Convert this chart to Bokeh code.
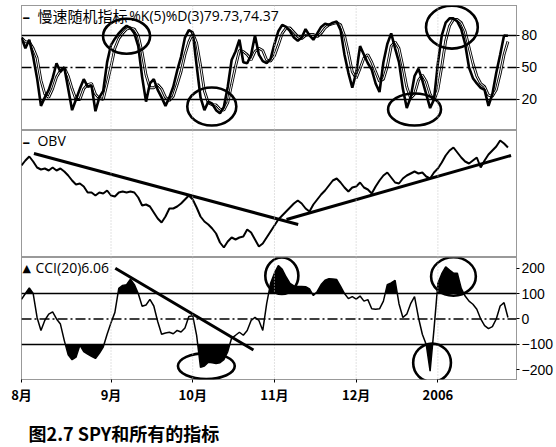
import numpy as np
from bokeh.plotting import figure
from bokeh.models import Span, FixedTicker, Label
from bokeh.layouts import column
from bokeh.embed import file_html
from bokeh.resources import INLINE

# ---------------- data ----------------
month_ticks = [0, 23, 44, 65, 86, 107]
month_labels = ["8月", "9月", "10月", "11月", "12月", "2006"]

stoch_k = [78, 68, 76, 60, 40, 14, 22, 29, 40, 54,
           46, 50, 30, 10, 20, 30, 39, 32, 33, 9,
           22, 28, 55, 71, 77, 82, 86, 89, 87, 82,
           70, 41, 18, 35, 39, 29, 22, 14, 22, 32,
           47, 60, 78, 85, 83, 52, 22, 10, 18, 16,
           10, 7, 13, 32, 57, 65, 76, 55, 54, 62,
           80, 62, 56, 54, 58, 72, 84, 90, 88, 84,
           78, 75, 78, 86, 80, 76, 82, 88, 91, 90,
           92, 93, 85, 62, 45, 31, 45, 70, 62, 54,
           48, 35, 27, 55, 72, 82, 68, 55, 30, 12,
           22, 42, 49, 38, 25, 12, 20, 54, 80, 92,
           96, 96, 93, 86, 72, 50, 40, 35, 31, 29,
           14, 25, 45, 62, 80, 79.73]

stoch_d = [78, 74, 74, 68, 59, 38, 25, 22, 30, 41,
           47, 50, 42, 30, 20, 20, 30, 34, 35, 25,
           21, 20, 35, 51, 68, 77, 82, 86, 87, 86,
           80, 64, 43, 31, 31, 34, 30, 22, 19, 23,
           34, 46, 62, 74, 82, 73, 52, 28, 17, 15,
           15, 11, 10, 17, 34, 51, 66, 65, 62, 57,
           65, 68, 66, 57, 56, 61, 71, 82, 87, 87,
           83, 79, 77, 80, 81, 81, 79, 82, 87, 90,
           91, 92, 90, 80, 64, 46, 40, 49, 59, 62,
           55, 46, 37, 39, 51, 70, 74, 68, 51, 32,
           21, 25, 38, 43, 37, 25, 19, 29, 51, 75,
           89, 95, 95, 92, 84, 69, 54, 42, 35, 32,
           24, 23, 29, 44, 62, 74.37]

obv = [85, 90, 94, 89, 83, 81, 82, 80, 83, 80,
       82, 79, 75, 70, 66, 67, 64, 58, 58, 55,
       58, 57, 60, 55, 54, 58, 59, 58, 59, 58,
       53, 45, 46, 44, 38, 32, 28, 34, 42, 42,
       44, 47, 51, 55, 51, 43, 34, 29, 26, 22,
       17, 8, 3, 9, 13, 11, 13, 14, 21, 18,
       11, 4, 7, 13, 19, 25, 31, 35, 39, 43,
       47, 50, 47, 42, 39, 46, 51, 56, 60, 65,
       70, 72, 68, 63, 59, 63, 64, 68, 63, 61,
       57, 64, 70, 75, 78, 73, 68, 67, 72, 75,
       77, 79, 77, 78, 74, 72, 78, 82, 88, 95,
       100, 103, 98, 93, 89, 87, 90, 93, 83, 90,
       96, 100, 104, 110, 107, 103]

cci = [77, 100, 122, 100, 6, -45, -5, 19, 28, 0,
       -20, -85, -141, -160, -150, -103, -128, -138, -147, -155,
       -135, -110, -60, -15, 26, 120, 132, 135, 156, 135,
       100, 50, 55, 77, 51, -10, -60, -55, -52, -58,
       -45, -51, -35, 10, 13, -64, -190, -185, -170, -172,
       -175, -172, -160, -128, -75, -64, -52, -64, -45, -6,
       6, -6, -45, 60, 140, 180, 210, 195, 165, 140,
       130, 128, 128, 127, 118, 92, 108, 135, 152, 158,
       157, 155, 128, 100, 80, 88, 78, 90, 70, 76,
       40, 38, 40, 70, 135, 142, 152, 60, 6, 19,
       60, 88, 6, -60, -100, -205, -40, 140, 178, 205,
       192, 180, 180, 120, 90, 70, 58, 38, 0, -26,
       -38, -30, 0, 51, 64, 6.06]

days = list(range(len(cci)))

# trend lines drawn on the book figure (day index, indicator value)
obv_trend1_x = [3.2, 71.1]
obv_trend1_y = [97, 26]
obv_trend2_x = [68.1, 125.8]
obv_trend2_y = [31, 95]
cci_trend_x = [24.1, 59.6]
cci_trend_y = [199, -122]

# hand-drawn circles (centre day, centre value, width in days, height in value)
stoch_circle_x = [27.0, 48.9, 101.0, 110.6]
stoch_circle_y = [79.3, 13.4, 10.6, 87.8]
stoch_circle_w = [12.1, 12.6, 13.6, 13.3]
stoch_circle_h = [32.8, 35.6, 30.0, 40.3]

cci_circle_x = [66.9, 111.0, 105.5, 47.5]
cci_circle_y = [170, 167, -172, -185]
cci_circle_w = [8.5, 11.5, 9.7, 14.6]
cci_circle_h = [143, 151, 151, 102]

caption = "图2.7 SPY和所有的指标"

# ---------------- layout helpers ----------------
W = 556
X_END = 127.2
PX_PER_DAY = 3.9
FRAME_LEFT = 21   # canvas px of the plot frames' left edge
BORDER_RIGHT = 39


def px_x(px):
    return (px - FRAME_LEFT) / PX_PER_DAY


def style_panel(p):
    p.grid.visible = False
    p.outline_line_color = "#333333"
    p.outline_line_dash = "1 1"
    p.outline_line_width = 1
    p.background_fill_color = "white"
    p.border_fill_color = "white"
    for t in month_ticks[1:]:
        p.add_layout(Span(location=t, dimension="height", line_color="#c4c4c4",
                          line_dash="1 2", line_width=1))


def style_right_axis(p, ticks):
    ax = p.yaxis[0]
    ax.ticker = FixedTicker(ticks=ticks)
    ax.axis_line_color = None
    ax.major_tick_out = 3
    ax.major_tick_in = 0
    ax.minor_tick_out = 0
    ax.minor_tick_in = 0
    ax.major_tick_line_color = "black"
    ax.major_label_standoff = 2
    ax.major_label_text_font = "Liberation Sans"
    ax.major_label_text_font_size = "14px"
    ax.major_label_text_color = "black"


def hline(p, y, dash=None):
    kw = dict(location=y, dimension="width", line_color="black", line_width=1.5)
    if dash:
        kw["line_dash"] = dash
    p.add_layout(Span(**kw))


def band(xs, ys, level, above=True):
    bx, by = [], []
    for i in range(len(xs)):
        if i > 0:
            y0, y1 = ys[i - 1], ys[i]
            if (y0 - level) * (y1 - level) < 0:
                t = (level - y0) / (y1 - y0)
                bx.append(xs[i - 1] + t * (xs[i] - xs[i - 1]))
                by.append(level)
        bx.append(xs[i])
        by.append(max(ys[i], level) if above else min(ys[i], level))
    return bx, by


# ---------------- panel 1: slow stochastic ----------------
T1 = 5          # frame top (canvas px)
H1F = 125       # frame height
S_TOP, S_BOT = 108.1, -9.06
p1 = figure(width=W, height=T1 + H1F, x_range=(0, X_END), y_range=(S_BOT, S_TOP),
            output_backend="svg", toolbar_location=None,
            x_axis_location=None, y_axis_location="right",
            min_border=0, min_border_top=T1, min_border_left=FRAME_LEFT,
            min_border_right=BORDER_RIGHT)
style_panel(p1)
style_right_axis(p1, [20, 50, 80])
hline(p1, 80)
hline(p1, 20)
hline(p1, 50, "10 3 2 3")
p1.line(days, stoch_d, line_color="black", line_width=2.8)
p1.line(days, stoch_d, line_color="white", line_width=1.0)
p1.line(days, stoch_k, line_color="black", line_width=2.6)


def s_y(py):
    return S_TOP - (py - T1) * (S_TOP - S_BOT) / H1F


p1.add_layout(Label(x=px_x(22), y=s_y(15), text="–", text_font="Open Sans",
                    text_font_style="bold", text_font_size="15px",
                    text_baseline="middle", text_color="black"))
p1.add_layout(Label(x=px_x(37), y=s_y(15), text="慢速随机指标", text_font="Noto Sans CJK SC",
                    text_font_size="15px", text_baseline="middle", text_color="black"))
p1.add_layout(Label(x=px_x(129), y=s_y(15), text="%K(5)%D(3)79.73,74.37",
                    text_font="Open Sans", text_font_size="14px",
                    text_baseline="middle", text_color="black"))
p1.ellipse(x=stoch_circle_x, y=stoch_circle_y, width=stoch_circle_w, height=stoch_circle_h,
           fill_color=None, line_color="black", line_width=2.6)

# ---------------- panel 2: OBV ----------------
H2 = 127
O_TOP, O_BOT = 120, -7
p2 = figure(width=W, height=H2, x_range=p1.x_range, y_range=(O_BOT, O_TOP),
            output_backend="svg", toolbar_location=None,
            x_axis_location=None, y_axis_location=None,
            min_border=0, min_border_left=FRAME_LEFT, min_border_right=BORDER_RIGHT)
style_panel(p2)
p2.line(days, obv, line_color="black", line_width=2)
p2.line(obv_trend1_x, obv_trend1_y, line_color="black", line_width=3)
p2.line(obv_trend2_x, obv_trend2_y, line_color="black", line_width=3)


def o_y(py):
    return O_TOP - (py - 130) * (O_TOP - O_BOT) / H2


p2.add_layout(Label(x=px_x(22), y=o_y(140), text="–", text_font="Open Sans",
                    text_font_style="bold", text_font_size="15px",
                    text_baseline="middle", text_color="black"))
p2.add_layout(Label(x=px_x(37), y=o_y(140), text="OBV", text_font="Open Sans",
                    text_font_size="14px", text_baseline="middle", text_color="black"))

# ---------------- panel 3: CCI ----------------
H3F = 127
BB = 22
C_TOP, C_BOT = 241.5, -237.7
p3 = figure(width=W, height=H3F + BB, x_range=p1.x_range, y_range=(C_BOT, C_TOP),
            output_backend="svg", toolbar_location=None,
            x_axis_location="below", y_axis_location="right",
            min_border=0, min_border_left=FRAME_LEFT, min_border_right=BORDER_RIGHT,
            min_border_bottom=BB)
style_panel(p3)
style_right_axis(p3, [-200, -100, 0, 100, 200])
xa = p3.xaxis[0]
xa.ticker = FixedTicker(ticks=month_ticks)
xa.major_label_overrides = {t: l for t, l in zip(month_ticks, month_labels)}
xa.axis_line_color = None
xa.major_tick_out = 3
xa.major_tick_in = 0
xa.minor_tick_out = 0
xa.minor_tick_in = 0
xa.major_label_standoff = 2
xa.major_label_text_font = "Noto Sans CJK SC"
xa.major_label_text_font_style = "bold"
xa.major_label_text_font_size = "13px"
xa.major_label_text_color = "black"

hline(p3, 100)
hline(p3, -100)
hline(p3, 0, "10 3 2 3")
ux, uy = band(days, cci, 100, above=True)
lx, ly = band(days, cci, -100, above=False)
p3.varea(x=ux, y1=100, y2=uy, fill_color="black")
p3.varea(x=lx, y1=-100, y2=ly, fill_color="black")
p3.line(days, cci, line_color="black", line_width=1.5)
p3.line(cci_trend_x, cci_trend_y, line_color="black", line_width=3)
p3.ellipse(x=cci_circle_x, y=cci_circle_y, width=cci_circle_w, height=cci_circle_h,
           fill_color=None, line_color="black", line_width=2.6)


def c_y(py):
    return C_TOP - (py - 257) * (C_TOP - C_BOT) / H3F


p3.add_layout(Label(x=px_x(22), y=c_y(268), text="▲", text_font="DejaVu Sans",
                    text_font_size="11px", text_baseline="middle", text_color="black"))
p3.add_layout(Label(x=px_x(35), y=c_y(267), text="CCI(20)6.06", text_font="Open Sans",
                    text_font_size="14px", text_baseline="middle", text_color="black"))

# ---------------- caption ----------------
H4 = 447 - (T1 + H1F) - H2 - (H3F + BB)
p4 = figure(width=W, height=H4, x_range=(0, W), y_range=(0, H4),
            output_backend="svg", toolbar_location=None,
            x_axis_location=None, y_axis_location=None, min_border=0)
p4.grid.visible = False
p4.outline_line_color = None
p4.add_layout(Label(x=8, y=H4 - 26, text=caption, text_font="Noto Sans CJK SC",
                    text_font_style="bold", text_font_size="18px",
                    text_baseline="middle", text_color="black"))

layout = column(p1, p2, p3, p4, spacing=0)
open("out.html", "w").write(file_html(layout, INLINE))
